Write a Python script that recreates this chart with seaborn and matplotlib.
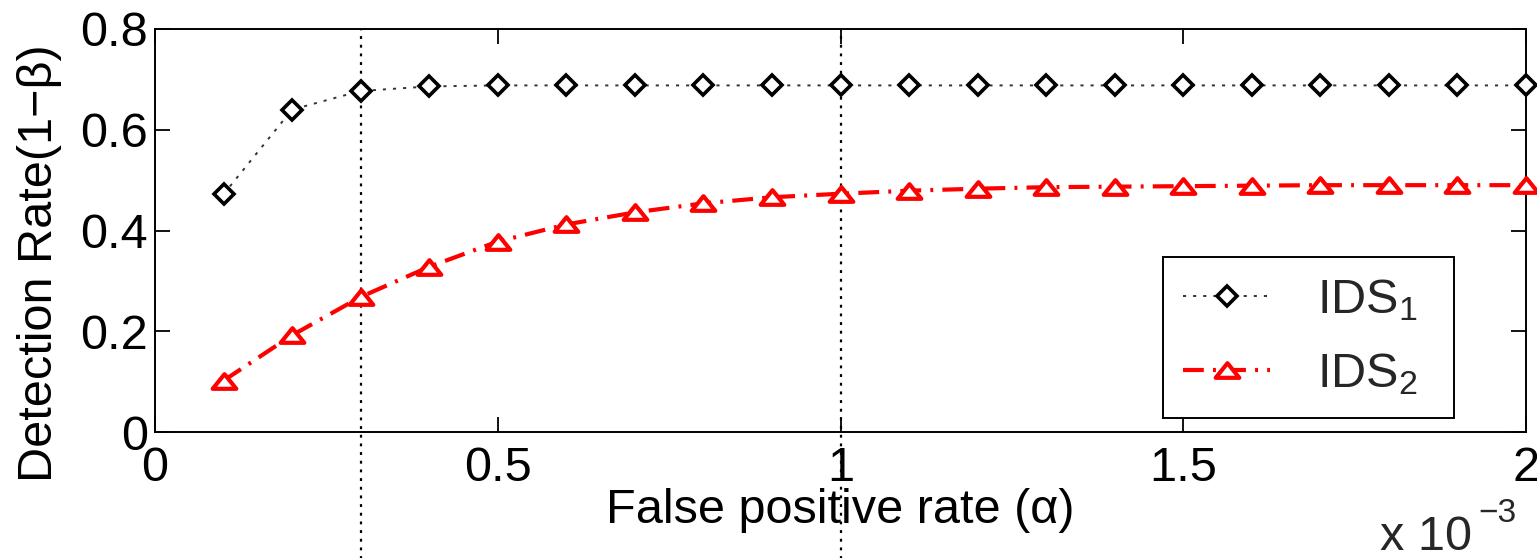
import numpy as np
import pandas as pd
import matplotlib
matplotlib.use("Agg")
import matplotlib.pyplot as plt
from matplotlib.path import Path
import seaborn as sns

# ---- data (x in units of 1e-3) ----
fpr = [0.1, 0.2, 0.3, 0.4, 0.5, 0.6, 0.7, 0.8, 0.9, 1.0,
       1.1, 1.2, 1.3, 1.4, 1.5, 1.6, 1.7, 1.8, 1.9, 2.0]
ids1 = [0.472, 0.640, 0.677, 0.686, 0.688, 0.688, 0.688, 0.688, 0.688, 0.688,
        0.688, 0.688, 0.688, 0.688, 0.688, 0.688, 0.688, 0.688, 0.688, 0.688]
ids2 = [0.102, 0.192, 0.268, 0.328, 0.378, 0.412, 0.436, 0.454, 0.466, 0.473,
        0.479, 0.483, 0.486, 0.487, 0.488, 0.489, 0.490, 0.490, 0.490, 0.490]
series_names = ["IDS$_\\mathregular{1}$  ", "IDS$_\\mathregular{2}$  "]
vlines_x = [0.3, 1.0]
xticks = [0, 0.5, 1, 1.5, 2]
xticklabels = ["0", "0.5", "1", "1.5", "2"]
yticks = [0, 0.2, 0.4, 0.6, 0.8]
yticklabels = ["0", "0.2", "0.4", "0.6", "0.8"]

sns.set_style("ticks")
plt.rcParams["font.family"] = ["Liberation Sans", "DejaVu Sans"]
plt.rcParams["mathtext.fontset"] = "custom"
plt.rcParams["mathtext.rm"] = "Liberation Sans"
plt.rcParams["mathtext.it"] = "Liberation Sans"

W, H = 1537, 558
fig = plt.figure(figsize=(W / 100, H / 100), dpi=100)
L, R, T, B = 155, 1526, 29, 432
ax = fig.add_axes([L / W, 1 - B / H, (R - L) / W, (B - T) / H])

FS = 35

df1 = pd.DataFrame({"x": fpr, "y": ids1})
df2 = pd.DataFrame({"x": fpr, "y": ids2})

tri = Path([(-1.0, -0.62), (1.0, -0.62), (0.0, 0.62), (-1.0, -0.62)],
           [Path.MOVETO, Path.LINETO, Path.LINETO, Path.CLOSEPOLY])

sns.lineplot(data=df1, x="x", y="y", ax=ax, color="#333333", lw=1.4,
             linestyle=(0, (1.6, 3.6)), marker="D", markersize=10,
             markerfacecolor="white", markeredgecolor="black",
             markeredgewidth=2.6, label=series_names[0], clip_on=False,
             zorder=4)
sns.lineplot(data=df2, x="x", y="y", ax=ax, color="red", lw=3.0,
             linestyle=(0, (5.0, 2.2, 0.7, 2.2)), marker=tri, markersize=17,
             markerfacecolor="white", markeredgecolor="red",
             markeredgewidth=3.0, label=series_names[1], clip_on=False,
             zorder=4)

for xv in vlines_x:
    ax.axvline(xv, ymin=-0.315, ymax=1.0, color="black", lw=1.6,
               linestyle=(0, (1.3, 2.6)), clip_on=False, zorder=3)

ax.set_xlim(0, 2)
ax.set_ylim(0, 0.8)
ax.set_xticks(xticks)
ax.set_xticklabels(xticklabels)
ax.set_yticks(yticks)
ax.set_yticklabels(yticklabels)
ax.tick_params(axis="both", direction="in", length=11, width=1.3,
               labelsize=FS, top=True, right=True, color="black",
               labelcolor="black")
ax.tick_params(axis="x", pad=10)
ax.tick_params(axis="y", pad=5)
for sp in ax.spines.values():
    sp.set_visible(True)
    sp.set_color("black")
    sp.set_linewidth(1.4)

ax.set_xlabel("False positive rate (α)", fontsize=FS, labelpad=0,
              color="black")
ax.set_ylabel("Detection Rate(1−β)", fontsize=FS, color="black")
ax.xaxis.set_label_coords(0.5, -0.14)
ax.yaxis.set_label_coords(-0.068, 0.42)

leg = ax.legend(loc="upper left",
                bbox_to_anchor=(1163 / W, 1 - 257 / H),
                bbox_transform=fig.transFigure, borderaxespad=0,
                fontsize=FS, frameon=True, fancybox=False, shadow=False,
                handlelength=1.79, handletextpad=0.95, borderpad=0.42,
                labelspacing=0.58, markerscale=1.0)
leg.get_frame().set_edgecolor("black")
leg.get_frame().set_linewidth(1.4)
leg.get_frame().set_facecolor("white")
leg.get_frame().set_alpha(1)

fig.text(1380 / W, 1 - 550 / H, "x 10", fontsize=FS, ha="left",
         va="baseline")
fig.text(1478 / W, 1 - 522 / H, "−3", fontsize=24, ha="left",
         va="baseline")

fig.savefig("out.png", dpi=100, facecolor="white")
